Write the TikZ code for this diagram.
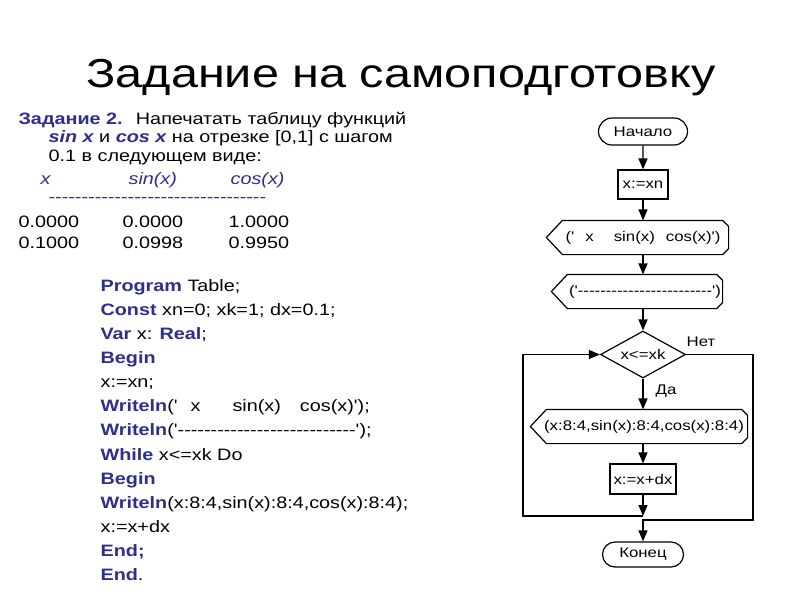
\documentclass[tikz,border=0pt]{standalone}
\usepackage{fontspec}
\setmainfont{Liberation Sans}[Ligatures=TeXOff,FakeStretch=1.2]
\usetikzlibrary{arrows.meta,shapes.geometric,shapes.misc}
\definecolor{navy}{RGB}{46,46,140}
\newcommand{\kw}[1]{\textbf{\color{navy}#1}}
\newcommand{\dashes}[1]{\foreach \k in {1,...,#1}{-}}
% output block: pointed on the left, bevelled on the right
\newcommand{\drawout}[1]{\draw ([xshift=16pt]#1.north west) -- ([xshift=-6pt]#1.north east)
  -- ([yshift=-6pt]#1.north east) -- ([yshift=6pt]#1.south east) -- ([xshift=-6pt]#1.south east)
  -- ([xshift=16pt]#1.south west) -- (#1.west) -- cycle;}
\begin{document}
\begin{tikzpicture}[x=1pt,y=-1pt,line width=1.2pt,
    txt/.style={anchor=base west,inner sep=0pt,font=\fontsize{16.5}{20}\selectfont},
    head/.style={txt,text=navy,font=\fontsize{16.5}{20}\selectfont\itshape},
    fc/.style={font=\fontsize{14}{16}\selectfont,inner sep=0pt},
    proc/.style={fc,draw,rectangle},
    term/.style={fc,draw,rounded rectangle},
    outp/.style={fc,minimum height=33pt},
    arr/.style={-{Triangle[length=11pt,width=9pt]}}]
  \fill[white] (0,0) rectangle (800,600);
  \useasboundingbox (0,0) rectangle (800,600);

  % title
  \node[anchor=base,inner sep=0pt,font=\fontsize{40.5}{48}\selectfont] (title) at (401,87) {Задание на самоподготовку};

  % task
  \node[txt] (task1) at (18,124) {\kw{Задание 2.}\hspace{0.8em}Напечатать таблицу функций};
  \node[txt] (task2) at (48,142) {\kw{\itshape sin x} и \kw{\itshape cos x} на отрезке [0,1] с шагом};
  \node[txt] (task3) at (48,161) {0.1 в следующем виде:};
  \node[head] (hx) at (40,184) {x};
  \node[head] (hsin) at (128,184) {sin(x)};
  \node[head] (hcos) at (230,184) {cos(x)};
  \node[txt,text=navy] (rule) at (48,202.5) {\dashes{33}};
  \foreach \xv/\sv/\cv [count=\r] in {0.0000/0.0000/1.0000,0.1000/0.0998/0.9950}{
    \node[txt] (x\r) at (18,206+21*\r) {\xv};
    \node[txt] (s\r) at (122,206+21*\r) {\sv};
    \node[txt] (c\r) at (228,206+21*\r) {\cv};
  }

  % program
  \foreach \ln [count=\i from 0] in {
      {\kw{Program} Table;},
      {\kw{Const} xn=0; xk=1; dx=0.1;},
      {\kw{Var} x: \kw{Real};},
      {\kw{Begin}},
      {x:=xn;},
      {\kw{Writeln}('\hspace{13pt}x\hspace{32pt}sin(x)\hspace{19pt}cos(x)');},
      {\kw{Writeln}('\dashes{27}');},
      {\kw{While} x<=xk Do},
      {\kw{Begin}},
      {\kw{Writeln}(x:8:4,sin(x):8:4,cos(x):8:4);},
      {x:=x+dx},
      {\kw{End;}},
      {\kw{End}.}}
    \node[txt] (prog\i) at (100,{291.5+24.08*\i}) {\ln};

  % flowchart
  \node[term,minimum width=89pt,minimum height=27pt] (start) at (643,131.5) {Начало};
  \node[proc,minimum width=50pt,minimum height=29pt] (init) at (643,184.5) {x:=xn};
  \node[outp,minimum width=181pt] (out1) at (637.5,237.5) {\hspace*{11pt}('\hspace{11pt}x\hspace{20pt}sin(x)\hspace{11pt}cos(x)')};
  \node[outp,minimum width=170pt] (out2) at (637,291.5) {\hspace*{16pt}('\dashes{24}')};
  \node[fc,draw,diamond,aspect=1.8,minimum width=85pt,minimum height=47pt] (cond) at (643,354.5) {x<=xk};
  \node[outp,minimum width=216pt] (out3) at (639,426.5) {\hspace*{10pt}(x:8:4,sin(x):8:4,cos(x):8:4)};
  \node[proc,minimum width=66pt,minimum height=30pt] (step) at (643,479) {x:=x+dx};
  \node[term,minimum width=81pt,minimum height=25pt] (stop) at (643,554.5) {Конец};
  \drawout{out1}
  \drawout{out2}
  \drawout{out3}
  \node[fc] (no) at (701,342) {Нет};
  \node[fc] (yes) at (666,391) {Да};

  \coordinate (back) at (643,516);
  \coordinate (loopL) at (523,516);
  \coordinate (exitR) at (753,520);
  \draw[arr] (start) -- (init);
  \draw[arr] (init) -- (init |- out1.north);
  \draw[arr] (init |- out1.south) -- (init |- out2.north);
  \draw[arr] (init |- out2.south) -- (cond);
  \draw[arr] (cond) -- (cond |- out3.north);
  \draw[arr] (cond |- out3.south) -- (step);
  \draw[arr] (step) -- (back);
  \draw[arr] (back) -- (loopL) |- (cond);
  \draw[arr] (cond) -| (exitR) -| (stop);
\end{tikzpicture}
\end{document}
